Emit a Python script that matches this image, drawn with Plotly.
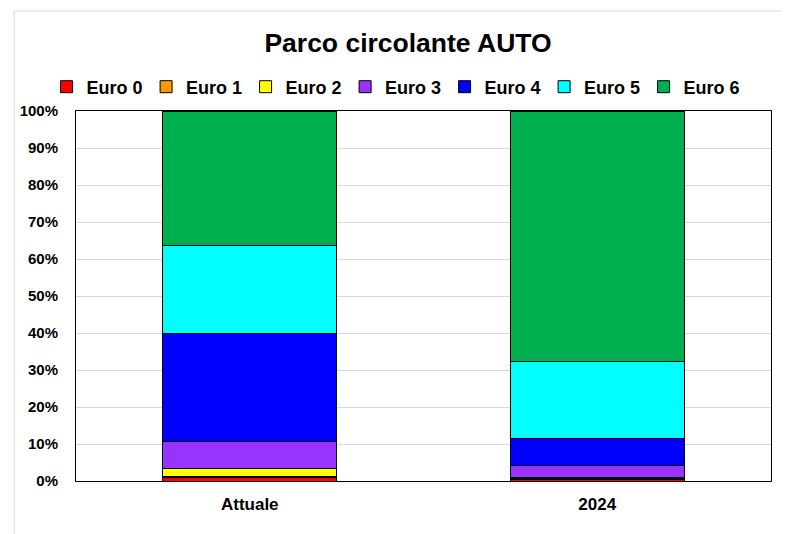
import plotly.graph_objects as go

categories = ["Attuale", "2024"]
series_names = ["Euro 0", "Euro 1", "Euro 2", "Euro 3", "Euro 4", "Euro 5", "Euro 6"]
euro0 = [1.0, 0.5]
euro1 = [0.2, 0.1]
euro2 = [2.3, 0.3]
euro3 = [7.3, 3.4]
euro4 = [29.0, 7.3]
euro5 = [23.8, 20.8]
euro6 = [36.4, 67.6]
values = [euro0, euro1, euro2, euro3, euro4, euro5, euro6]
colors = ["#FF0000", "#FF9900", "#FFFF00", "#9933FF", "#0000FF", "#00FFFF", "#00B050"]
y_ticks = [0, 10, 20, 30, 40, 50, 60, 70, 80, 90, 100]
y_tick_labels = [f"{t}%" for t in y_ticks]

FONT = "Liberation Sans, Arial, sans-serif"

fig = go.Figure()
for name, vals, col in zip(series_names, values, colors):
    fig.add_trace(go.Bar(
        x=categories, y=vals, name=f"<b>{name}</b>",
        marker=dict(color=col, line=dict(color="#000000", width=1)),
    ))

# page body adds an 8px offset; figure coordinates are reference px - 8
W, H = 782, 526
L, R, T, B = 66, 19, 103, 53
pw, ph = W - L - R, H - T - B

fig.update_layout(
    width=W, height=H,
    barmode="stack", bargap=0.5,
    margin=dict(l=L, r=R, t=T, b=B),
    paper_bgcolor="white", plot_bgcolor="white",
    font=dict(family=FONT, color="#000000"),
    title=dict(text="<b>Parco circolante AUTO</b>", x=400 / W, xanchor="center",
               y=1 - 35 / H, yanchor="middle", font=dict(size=26.5, family=FONT)),
    legend=dict(orientation="h", x=(386 - L) / pw, xanchor="center",
                y=(H - B - 79) / ph, yanchor="middle",
                font=dict(size=18, family=FONT),
                traceorder="normal", itemwidth=30, entrywidth=54.5, entrywidthmode="pixels"),
    showlegend=True,
    xaxis=dict(showgrid=False, showline=True, linecolor="#000000", linewidth=1, mirror=True,
               tickfont=dict(size=17), ticks="", ticklabelstandoff=8,
               tickvals=categories, ticktext=[f"<b>{c}</b>" for c in categories]),
    yaxis=dict(range=[0, 100], tickvals=y_ticks, ticktext=[f"<b>{t}</b>" for t in y_tick_labels],
               showgrid=True, gridcolor="#D9D9D9", gridwidth=1,
               showline=True, linecolor="#000000", linewidth=1, mirror=True,
               tickfont=dict(size=15), ticks="", zeroline=False, ticklabelstandoff=14),
)

# outer chart frame
fig.add_shape(type="rect", xref="paper", yref="paper",
              x0=(4 - L) / pw, x1=(W + 20 - L) / pw,
              y0=(H - B - H - 20) / ph, y1=(H - B - 3) / ph,
              line=dict(color="#D9D9D9", width=1), fillcolor="rgba(0,0,0,0)", layer="below")

fig.write_html("out.html")
